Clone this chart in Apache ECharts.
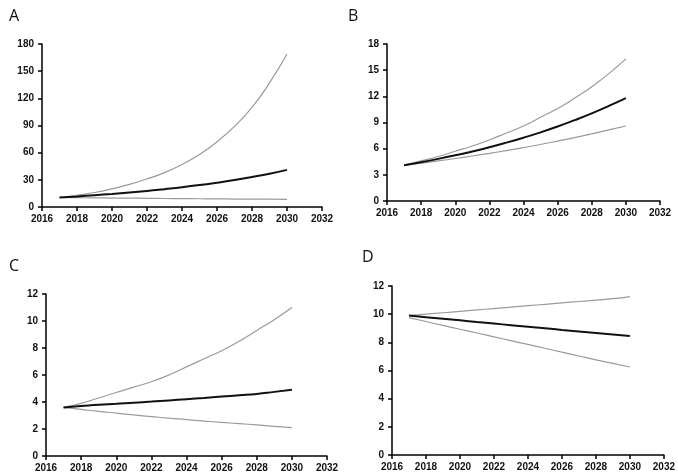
<!DOCTYPE html>
<html>
<head>
<meta charset="utf-8">
<script src="https://cdn.jsdelivr.net/npm/echarts@6/dist/echarts.min.js"></script>
<style>
  html, body { margin: 0; padding: 0; background: #fff; }
  #main { width: 678px; height: 475px; }
</style>
</head>
<body>
<div id="main"></div>
<script>
// years shared by all panels
var years = [2017, 2018, 2019, 2020, 2021, 2022, 2023, 2024, 2025, 2026, 2027, 2028, 2029, 2030];

// panel A
var aHigh = [10.5, 13, 16, 20, 25, 31, 38, 47, 58, 72, 89, 110, 137, 169];
var aMid  = [10.5, 11.7, 13, 14.4, 16, 17.7, 19.7, 21.8, 24.2, 26.9, 29.8, 33.1, 36.7, 41];
var aLow  = [10.5, 10.3, 10.1, 9.9, 9.8, 9.6, 9.4, 9.3, 9.1, 9.0, 8.8, 8.7, 8.6, 8.4];

// panel B
var bHigh = [4.1, 4.6, 5.1, 5.7, 6.3, 7.0, 7.8, 8.6, 9.6, 10.6, 11.8, 13.1, 14.6, 16.3];
var bMid  = [4.1, 4.45, 4.83, 5.24, 5.68, 6.16, 6.69, 7.26, 7.87, 8.54, 9.27, 10.05, 10.9, 11.8];
var bLow  = [4.1, 4.34, 4.6, 4.87, 5.16, 5.46, 5.78, 6.12, 6.48, 6.87, 7.27, 7.7, 8.15, 8.6];

// panel C
var cHigh = [3.6, 3.9, 4.3, 4.7, 5.1, 5.5, 6.0, 6.6, 7.2, 7.8, 8.5, 9.3, 10.1, 11.0];
var cMid  = [3.6, 3.7, 3.8, 3.87, 3.95, 4.03, 4.12, 4.21, 4.3, 4.4, 4.5, 4.6, 4.75, 4.9];
var cLow  = [3.6, 3.45, 3.3, 3.17, 3.04, 2.92, 2.8, 2.7, 2.59, 2.49, 2.4, 2.3, 2.2, 2.1];

// panel D
var dHigh = [9.9, 10.0, 10.1, 10.2, 10.3, 10.4, 10.5, 10.6, 10.7, 10.8, 10.9, 11.0, 11.1, 11.25];
var dMid  = [9.9, 9.78, 9.67, 9.56, 9.44, 9.33, 9.22, 9.11, 9.0, 8.88, 8.77, 8.66, 8.55, 8.45];
var dLow  = [9.75, 9.48, 9.2, 8.93, 8.66, 8.39, 8.12, 7.85, 7.58, 7.3, 7.03, 6.76, 6.5, 6.25];

var panelLabels = ['A', 'B', 'C', 'D'];
var yMax = [180, 18, 12, 12];
var yStep = [30, 3, 2, 2];

function pairs(vals) {
    return years.map(function (y, i) { return [y, vals[i]]; });
}

var myChart = echarts.init(document.getElementById('main'));

var grids = [
    {left: 42, top: 44, width: 280, height: 163},
    {left: 387, top: 44, width: 273, height: 157},
    {left: 46, top: 294, width: 281, height: 162},
    {left: 392, top: 286, width: 275, height: 169}
];

var axisLineStyle = {color: '#000', width: 1.5};
var labelStyle = {color: '#111', fontSize: 10, fontWeight: 'bold', fontFamily: 'Liberation Sans, Arial, sans-serif'};

var xAxes = [], yAxes = [], series = [];
var panels = [[aHigh, aMid, aLow], [bHigh, bMid, bLow], [cHigh, cMid, cLow], [dHigh, dMid, dLow]];

for (var i = 0; i < 4; i++) {
    xAxes.push({
        gridIndex: i, type: 'value', min: 2016, max: 2032, interval: 2,
        axisLine: {lineStyle: axisLineStyle},
        axisTick: {length: 4, lineStyle: axisLineStyle},
        axisLabel: Object.assign({margin: 7, formatter: function (v) { return String(v); }}, labelStyle),
        splitLine: {show: false}
    });
    yAxes.push({
        gridIndex: i, type: 'value', min: 0, max: yMax[i], interval: yStep[i],
        axisLine: {show: true, lineStyle: axisLineStyle},
        axisTick: {show: true, length: 4, lineStyle: axisLineStyle},
        axisLabel: Object.assign({margin: 8}, labelStyle),
        splitLine: {show: false}
    });
    var p = panels[i];
    series.push(
        {type: 'line', xAxisIndex: i, yAxisIndex: i, data: pairs(p[0]), showSymbol: false, smooth: true,
            lineStyle: {color: '#9a9a9a', width: 1.2}, z: 2},
        {type: 'line', xAxisIndex: i, yAxisIndex: i, data: pairs(p[2]), showSymbol: false, smooth: true,
            lineStyle: {color: '#9a9a9a', width: 1.2}, z: 2},
        {type: 'line', xAxisIndex: i, yAxisIndex: i, data: pairs(p[1]), showSymbol: false, smooth: true,
            lineStyle: {color: '#111', width: 2}, z: 3}
    );
}

var titlePos = [[4, 3], [343, 3], [4, 253], [357, 244]];
var titles = panelLabels.map(function (t, i) {
    return {
        text: t, left: titlePos[i][0], top: titlePos[i][1],
        textStyle: {fontSize: 16, fontWeight: 'normal', color: '#111', fontFamily: 'Open Sans, sans-serif'}
    };
});

var option = {
    backgroundColor: '#fff',
    animation: false,
    title: titles,
    grid: grids,
    xAxis: xAxes,
    yAxis: yAxes,
    series: series
};
myChart.setOption(option);
</script>
</body>
</html>
